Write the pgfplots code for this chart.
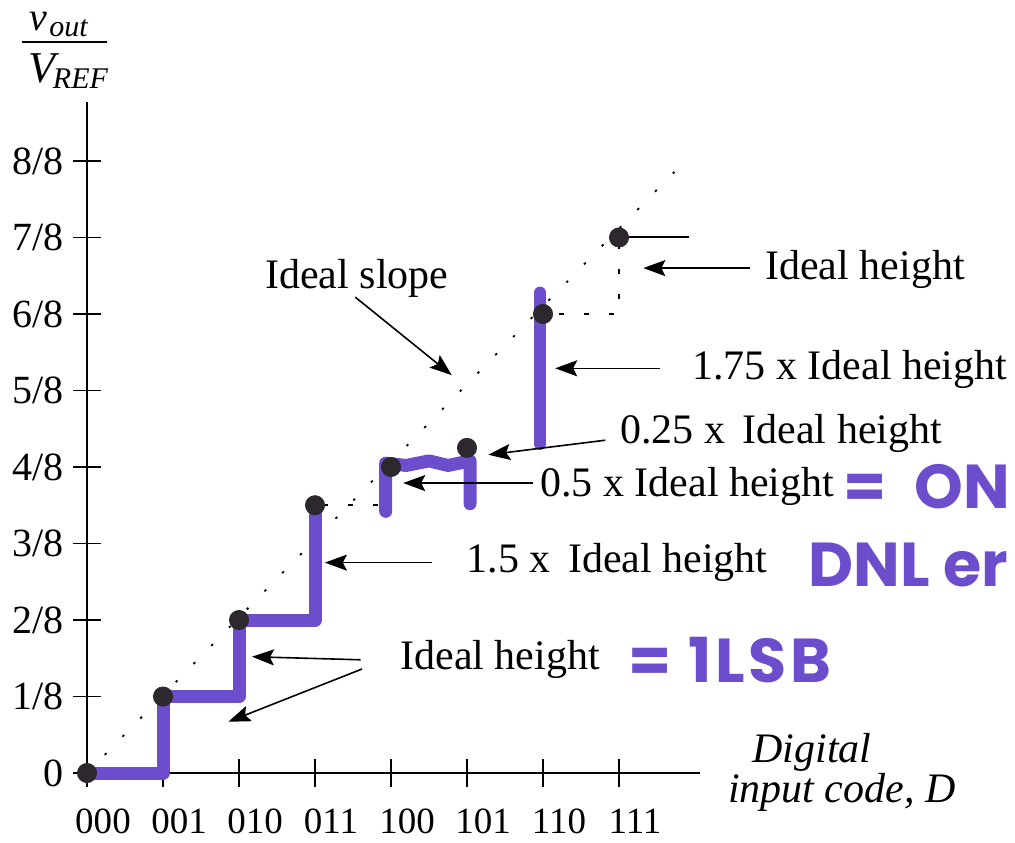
\documentclass[border=0pt]{standalone}
\usepackage{amsmath}
\usepackage{fontspec}
\setmainfont{Liberation Serif}
\newfontfamily\handfont{Poppins}
\usepackage{pgfplots}
\pgfplotsset{compat=1.18}
\usetikzlibrary{arrows.meta}
\definecolor{pen}{RGB}{108,78,205}
\definecolor{dot}{RGB}{45,40,45}
\tikzset{
  annot/.style={anchor=west, inner sep=0pt, font=\fontsize{21}{24}\selectfont},
  hand/.style={anchor=west, inner sep=0pt, text=pen, font=\handfont\bfseries\fontsize{31}{34}\selectfont},
  arr/.style={black, line width=0.8pt, -{Stealth[length=11pt,width=8pt,inset=2pt]}},
}
\begin{document}
\begin{tikzpicture}
\path[use as bounding box] (-43.5pt,-34.5pt) rectangle (464pt,386.5pt);
\begin{axis}[
  anchor=origin, at={(0,0)},
  x=38pt, y=38.25pt,
  xmin=0, xmax=8.07, ymin=0, ymax=8.77,
  axis lines=left,
  axis line style={-, line width=0.9pt},
  clip=false,
  xtick={0,...,7}, xticklabels={000,001,010,011,100,101,110,111},
  ytick={0,...,8}, yticklabels={0,1/8,2/8,3/8,4/8,5/8,6/8,7/8,8/8},
  tick align=center, major tick length=14pt,
  tick style={black, line width=0.8pt},
  xticklabel style={font=\fontsize{18.5}{20}\selectfont, anchor=north, xshift=8pt, yshift=-7.5pt},
  yticklabel style={font=\fontsize{20}{22}\selectfont, anchor=east, xshift=-1pt},
]
% ideal slope (dotted)
\addplot[black, line width=0.9pt, dash pattern=on 1.2pt off 11.5pt] coordinates {(0,0) (7.8,7.93)};
% ideal height dashes
\addplot[black, line width=0.8pt, dash pattern=on 2.5pt off 10pt, dash phase=-8pt] coordinates {(6,6) (7,6) (7,7)};
\addplot[black, line width=0.8pt, dash pattern=on 2.5pt off 10pt, dash phase=-4pt] coordinates {(3,3.5) (3.9,3.5)};
% black horizontal at top
\addplot[black, line width=1pt] coordinates {(7,7) (7.92,7)};
% purple hand-drawn staircase
\addplot[pen, line width=6.5pt, line join=round, line cap=round] coordinates {(0,0) (1,0) (1,1) (2,1) (2,2) (3,2) (3,3.5)};
\addplot[pen, line width=6.5pt, line join=round, line cap=round] coordinates {(3.93,3.42) (3.93,4.05) (4.2,4.02) (4.5,4.08) (4.75,4.02) (5.04,4.08) (5.04,3.52)};
\addplot[pen, line width=6pt, line join=round, line cap=round] coordinates {(5.96,4.3) (5.96,6.28)};
% output points
\addplot[only marks, mark=*, mark size=4.8pt, color=dot] coordinates {(0,0) (1,1) (2,2) (3,3.5) (4,4) (5,4.25) (6,6) (7,7)};
% arrows
\draw[arr] (3.53,6.22) -- (4.80,5.20);
\draw[arr] (8.72,6.60) -- (7.32,6.60);
\draw[arr] (7.54,5.29) -- (6.16,5.29);
\draw[arr] (6.82,4.35) -- (5.28,4.16);
\draw[arr] (5.87,3.79) -- (4.16,3.79);
\draw[arr] (4.54,2.75) -- (3.13,2.75);
\draw[arr] (3.60,1.48) -- (2.17,1.52);
\draw[arr] (3.62,1.36) -- (1.86,0.67);
% annotation text
\node[annot] at (2.34,6.47) {Ideal slope};
\node[annot] at (8.92,6.58) {Ideal height};
\node[annot] at (7.96,5.27) {1.75 x Ideal height};
\node[annot] at (7.01,4.44) {0.25 x\, Ideal height};
\node[annot] at (5.96,3.74) {0.5 x Ideal height};
\node[annot] at (4.99,2.75) {1.5 x\, Ideal height};
\node[annot] at (4.12,1.48) {Ideal height};
% handwritten notes
\node[hand] at (9.95,3.74) {=\hspace{14pt}ON};
\node[hand] at (9.49,2.72) {DNL er};
\node[hand] at (7.12,1.48) {\addfontfeatures{LetterSpace=6}= 1LSB};
% axis labels (v_out / V_REF)
\draw[line width=1pt] (-0.86,9.56) -- (0.26,9.56);
\node[anchor=base west, inner sep=0pt, text height=6pt, font=\itshape\fontsize{20}{22}\selectfont] at (-0.76,9.70) {v\hspace{1pt}\raisebox{-3pt}{\fontsize{15}{15}\selectfont out}};
\node[anchor=base west, inner sep=0pt, font=\itshape\fontsize{22}{24}\selectfont] at (-0.78,9.03) {V\hspace{-1pt}\raisebox{-3pt}{\fontsize{15}{15}\selectfont REF}};
\node[anchor=base west, inner sep=0pt, text depth=0pt, font=\itshape\fontsize{21}{24}\selectfont] at (8.75,0.14) {Digital};
\node[anchor=west, inner sep=0pt, font=\itshape\fontsize{21}{24}\selectfont] at (8.43,-0.25) {input code, D};
\end{axis}
\end{tikzpicture}
\end{document}
